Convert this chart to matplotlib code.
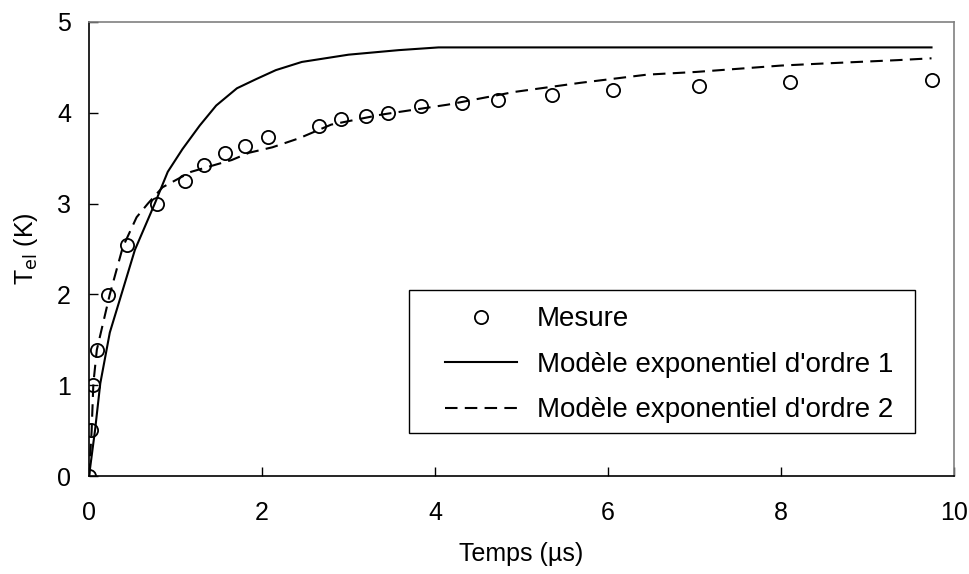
import matplotlib
matplotlib.use("Agg")
import matplotlib.pyplot as plt
from matplotlib.patches import Rectangle

plt.rcParams['font.family'] = ['Liberation Sans', 'DejaVu Sans']

# mesures (temps en µs, température en K)
t_mes = [0, 0.02, 0.05, 0.09, 0.22, 0.44, 0.79, 1.11, 1.33, 1.57, 1.80, 2.07,
         2.66, 2.91, 3.20, 3.46, 3.84, 4.31, 4.73, 5.35, 6.06, 7.05, 8.10, 9.75]
T_mes = [0, 0.51, 1.0, 1.39, 1.99, 2.54, 3.0, 3.25, 3.43, 3.56, 3.63, 3.73,
         3.85, 3.93, 3.97, 4.0, 4.08, 4.11, 4.14, 4.2, 4.25, 4.3, 4.34, 4.36]

# modèle exponentiel d'ordre 1
t_mod1 = [0, 0.07, 0.13, 0.24, 0.39, 0.53, 0.76, 0.91, 1.08, 1.28, 1.47, 1.71,
          1.93, 2.16, 2.46, 3.0, 3.58, 4.04, 9.74]
T_mod1 = [0, 0.51, 1.02, 1.58, 2.05, 2.49, 3.0, 3.35, 3.6, 3.86, 4.08, 4.27,
          4.37, 4.47, 4.56, 4.64, 4.69, 4.72, 4.72]

# modèle exponentiel d'ordre 2
t_mod2 = [0, 0.03, 0.05, 0.09, 0.24, 0.39, 0.55, 0.68, 0.85, 1.18, 1.65, 1.85,
          2.12, 2.43, 2.8, 3.38, 4.15, 4.92, 5.68, 6.45, 7.02, 8.0, 8.43, 9.35, 9.74]
T_mod2 = [0, 0.5, 1.02, 1.39, 2.0, 2.52, 2.85, 3.0, 3.18, 3.35, 3.48, 3.56,
          3.62, 3.72, 3.87, 3.98, 4.09, 4.23, 4.33, 4.42, 4.45, 4.52, 4.54, 4.58, 4.6]

fig = plt.figure(figsize=(9.7, 5.74), dpi=100)
ax = fig.add_axes([0.0918, 0.1707, 0.8917, 0.791])

ax.plot(t_mes, T_mes, linestyle="none", marker="o", markersize=9.5,
        markerfacecolor="none", markeredgecolor="black", markeredgewidth=1.3,
        label="Mesure", zorder=3)
ax.plot(t_mod1, T_mod1, color="black", linewidth=1.5,
        label="Modèle exponentiel d'ordre 1")
ax.plot(t_mod2, T_mod2, color="black", linewidth=1.5, dashes=(6, 3.5),
        label="Modèle exponentiel d'ordre 2")

ax.set_xlim(0, 10)
ax.set_ylim(0, 5)
ax.set_xticks(range(0, 11, 2))
ax.set_yticks(range(0, 6))
ax.tick_params(direction="in", length=6.5, width=1, labelsize=18, pad=13)
ax.tick_params(axis="x", pad=18)

for side in ["left", "bottom"]:
    ax.spines[side].set_color("black")
    ax.spines[side].set_linewidth(1.2)
for side in ["top", "right"]:
    ax.spines[side].set_color("#808080")
    ax.spines[side].set_linewidth(1.2)

ax.set_xlabel("Temps (µs)", fontsize=18, labelpad=12)
ax.set_ylabel("T$_{\\mathrm{el}}$ (K)", fontsize=18, labelpad=12)

# cadre de la légende
ax.add_patch(Rectangle((0.37, 0.0947), 0.585, 0.315, transform=ax.transAxes,
                       facecolor="white", edgecolor="black", linewidth=1.0,
                       zorder=4))
leg = ax.legend(loc="center left", bbox_to_anchor=(0.4116, 0.245),
                fontsize=20, frameon=False, handlelength=2.6,
                handletextpad=0.7, borderaxespad=0, borderpad=0,
                labelspacing=0.7)
leg.set_zorder(5)

fig.savefig("out.png", dpi=100)
